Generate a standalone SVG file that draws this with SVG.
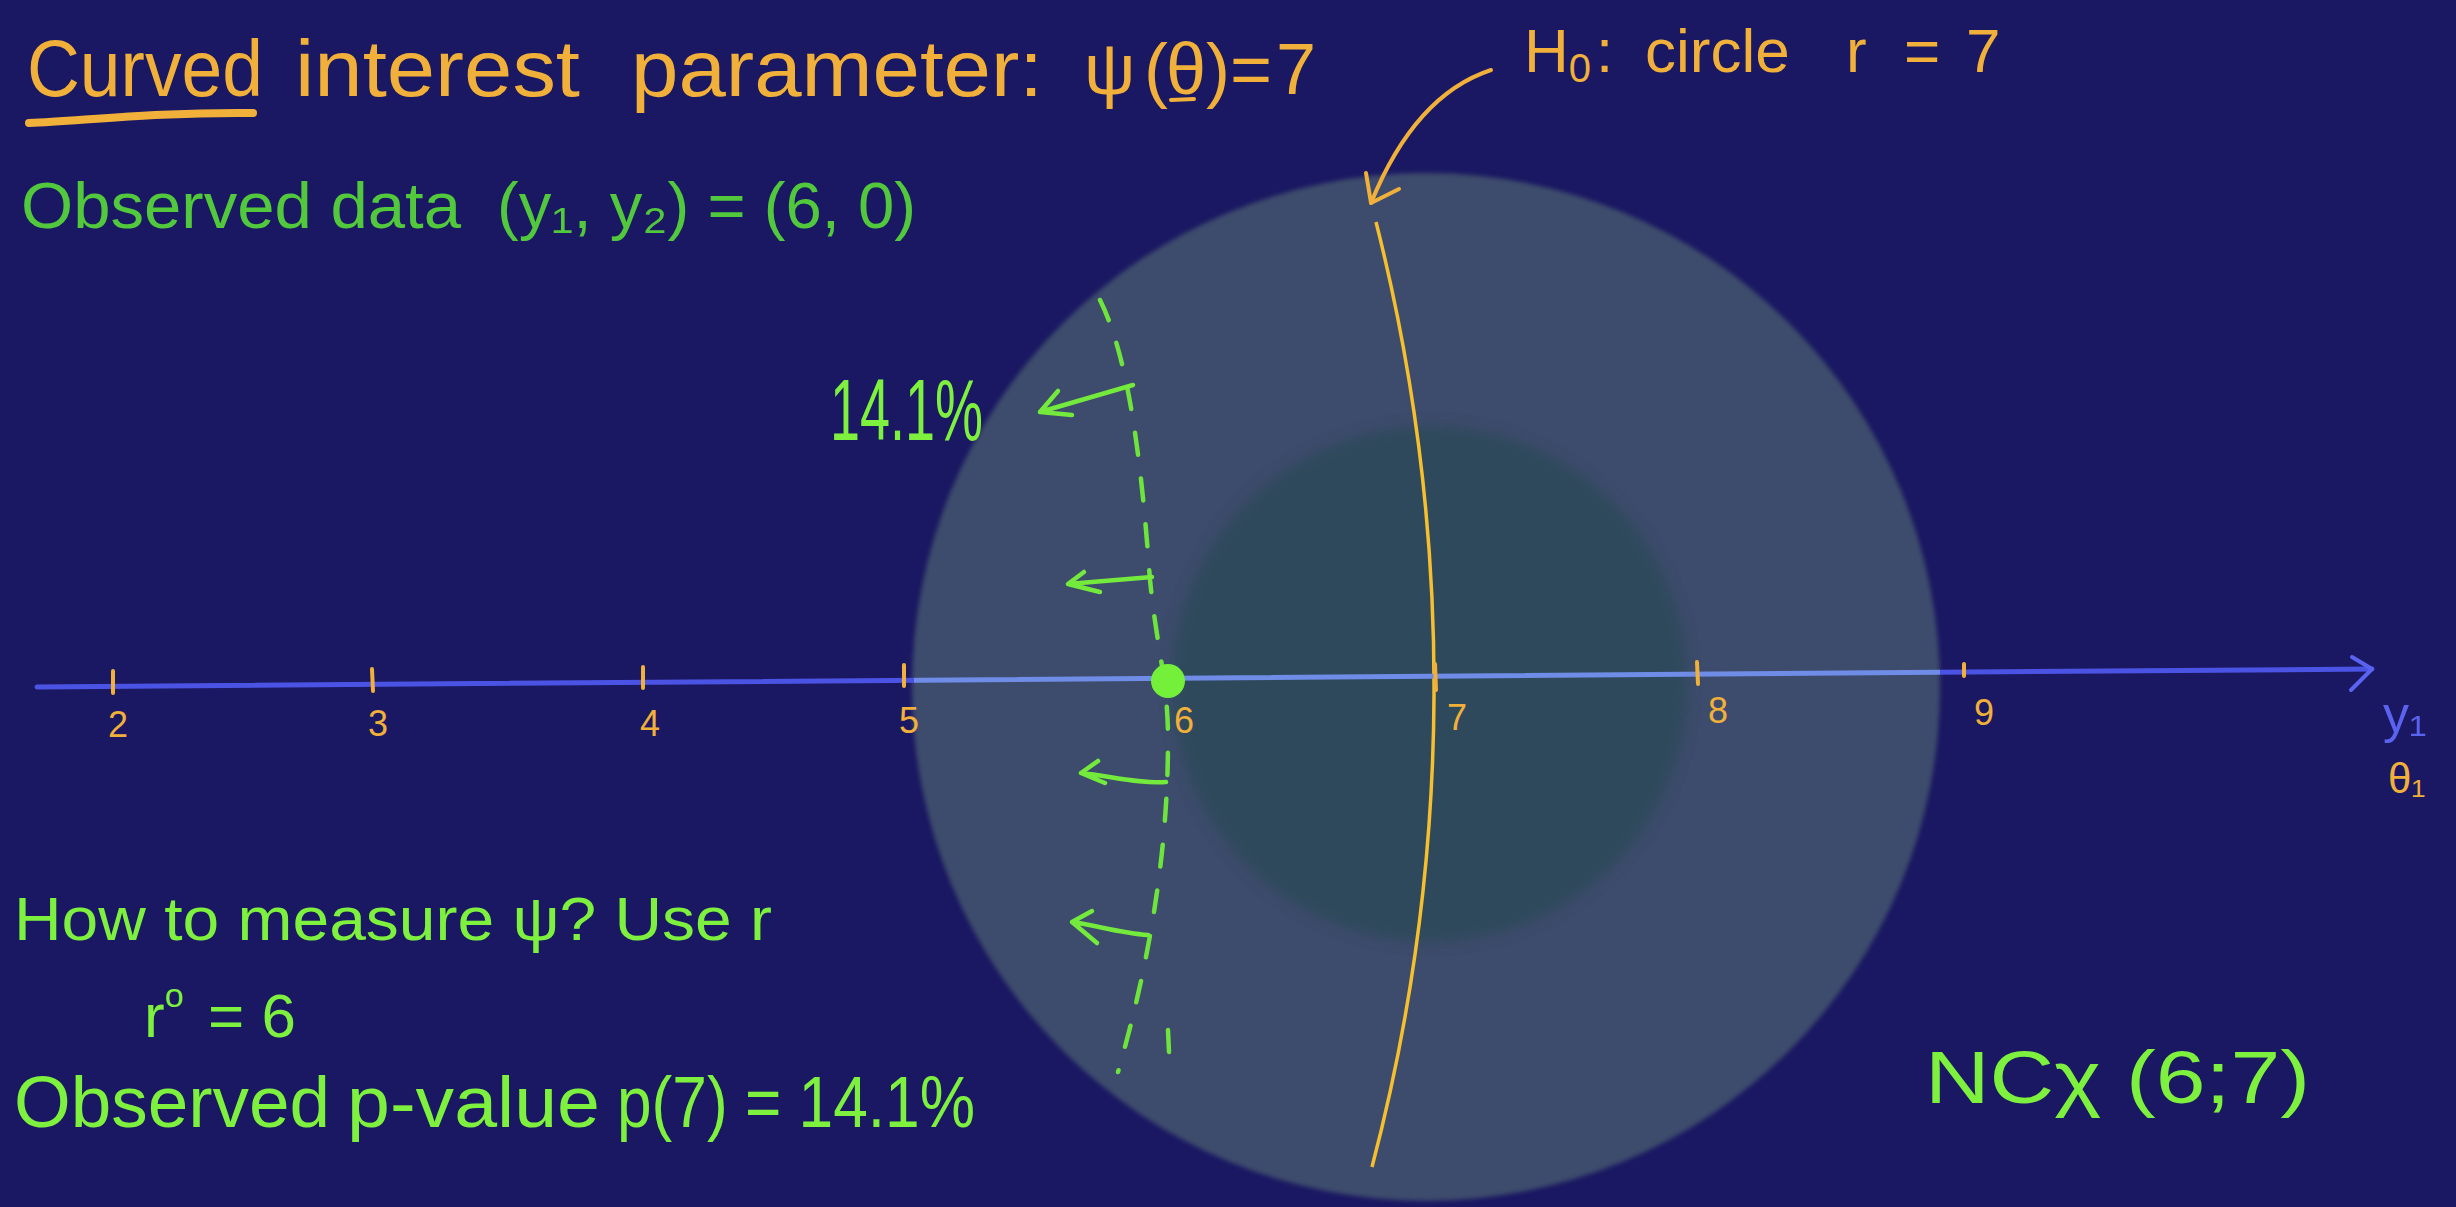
<svg xmlns="http://www.w3.org/2000/svg" width="2456" height="1207" viewBox="0 0 2456 1207">
<style>
text{font-family:"Liberation Sans","DejaVu Sans",sans-serif}
.or{fill:#f0b03a}
.g1{fill:#52c83c}
.g2{fill:#7ef03e}
.bl{fill:#5a63f0}
.tick{stroke:#f0b03a;stroke-width:4;stroke-linecap:round}
.garrow{fill:none;stroke:#74ea3c;stroke-width:4.5;stroke-linecap:round;stroke-linejoin:round}
.num{fill:#f0b03a;font-size:36px;text-anchor:middle}
</style>
<defs>
<linearGradient id="axisGrad" gradientUnits="userSpaceOnUse" x1="37" y1="0" x2="2372" y2="0">
<stop offset="0" stop-color="#4b53e4"/>
<stop offset="0.3756" stop-color="#4b53e4"/>
<stop offset="0.3756" stop-color="#6f8ce6"/>
<stop offset="0.8150" stop-color="#6f8ce6"/>
<stop offset="0.8150" stop-color="#4b53e4"/>
<stop offset="1" stop-color="#4b53e4"/>
</linearGradient>
<filter id="soft" x="-10%" y="-10%" width="120%" height="120%"><feGaussianBlur stdDeviation="2"/></filter>
<filter id="soft2" x="-10%" y="-10%" width="120%" height="120%"><feGaussianBlur stdDeviation="7"/></filter>
</defs>
<rect width="2456" height="1207" fill="#1a1862"/>

<g id="circles">
<circle cx="1426" cy="687" r="514" fill="#3c4b6c" filter="url(#soft)"/>
<circle cx="1430" cy="684" r="258" fill="#2f4a5c" filter="url(#soft2)"/>
</g>

<g id="title">
<text class="or" x="27" y="96" font-size="80" textLength="236" lengthAdjust="spacingAndGlyphs">Curved</text>
<text class="or" x="295" y="96" font-size="80" textLength="285" lengthAdjust="spacingAndGlyphs">interest</text>
<text class="or" x="631" y="96" font-size="80" textLength="412" lengthAdjust="spacingAndGlyphs">parameter:</text>
<text class="or" y="94" font-size="72"><tspan x="1084">ψ</tspan><tspan x="1144">(</tspan><tspan x="1166">θ</tspan><tspan x="1206">)</tspan><tspan x="1230">=</tspan><tspan x="1276">7</tspan></text>
<path d="M29,123 C90,120 160,112 253,113" fill="none" stroke="#f0b03a" stroke-width="8" stroke-linecap="round"/>
<path d="M1171,100 L1194,99" fill="none" stroke="#f0b03a" stroke-width="4" stroke-linecap="round"/>
</g>

<g id="observed-data">
<text class="g1" x="21" y="228" font-size="64" textLength="440" lengthAdjust="spacingAndGlyphs">Observed data</text>
<text class="g1" x="497" y="228" font-size="64" textLength="419" lengthAdjust="spacingAndGlyphs">(y₁, y₂) = (6, 0)</text>
</g>

<g id="h0-label">
<text class="or" y="72" font-size="62"><tspan x="1524">H</tspan><tspan font-size="40" dy="10">0</tspan><tspan dy="-10" x="1596">:</tspan><tspan x="1645">circle</tspan><tspan x="1846">r</tspan><tspan x="1904">=</tspan><tspan x="1966">7</tspan></text>
</g>

<g id="h0-curve">
<path d="M1376,222 A1890,1890 0 0 1 1372,1167" fill="none" stroke="#f5bf2e" stroke-width="3.5"/>
</g>

<g id="axis">
<line x1="37" y1="687" x2="2372" y2="669" stroke="url(#axisGrad)" stroke-width="5" stroke-linecap="round"/>
<polyline points="2352,657 2372,669 2351,690" fill="none" stroke="#5a63f0" stroke-width="4" stroke-linecap="round" stroke-linejoin="round"/>
<line class="tick" x1="113" y1="671" x2="113" y2="693"/>
<line class="tick" x1="372" y1="669" x2="373" y2="691"/>
<line class="tick" x1="643" y1="667" x2="643" y2="688"/>
<line class="tick" x1="904" y1="665" x2="904" y2="686"/>
<line class="tick" x1="1435" y1="664" x2="1436" y2="690"/>
<line class="tick" x1="1697" y1="662" x2="1698" y2="684"/>
<line class="tick" x1="1964" y1="664" x2="1964" y2="676"/>
<text class="num" x="118" y="737">2</text>
<text class="num" x="378" y="736">3</text>
<text class="num" x="650" y="736">4</text>
<text class="num" x="909" y="733">5</text>
<text class="num" x="1184" y="733">6</text>
<text class="num" x="1457" y="730">7</text>
<text class="num" x="1718" y="723">8</text>
<text class="num" x="1984" y="725">9</text>
<text class="bl" x="2383" y="732" font-size="52">y₁</text>
<text class="or" x="2388" y="793" font-size="42">θ₁</text>
</g>

<g id="dashed-r6">
<path d="M1100,300 C1130,360 1142,470 1150,580 C1157,650 1168,680 1168,740 C1168,830 1156,940 1118,1072" fill="none" stroke="#6ee43c" stroke-width="4.5" stroke-linecap="round" stroke-dasharray="22 24"/>
<line x1="1168" y1="1030" x2="1169" y2="1052" stroke="#6ee43c" stroke-width="4.5" stroke-linecap="round"/>
</g>

<g id="connectors">
<path d="M1491,70 Q1415,95 1371,203" fill="none" stroke="#f0b03a" stroke-width="4" stroke-linecap="round"/>
<polyline points="1366,173 1371,203 1399,189" fill="none" stroke="#f0b03a" stroke-width="4" stroke-linecap="round" stroke-linejoin="round"/>
<path class="garrow" d="M1133,385 L1040,412 M1058,391 L1040,412 L1072,415"/>
<path class="garrow" d="M1152,577 L1068,584 M1084,572 L1068,584 L1100,592"/>
<path class="garrow" d="M1166,782 C1140,784 1110,776 1081,773 M1098,761 L1081,773 L1105,783"/>
<path class="garrow" d="M1148,935 C1120,933 1095,925 1072,922 M1092,911 L1072,922 L1097,943"/>
</g>

<g id="observed-point">
<circle cx="1168" cy="681" r="17" fill="#74f03a"/>
</g>

<g id="label-14">
<text class="g2" x="830" y="440" font-size="88" textLength="153" lengthAdjust="spacingAndGlyphs">14.1%</text>
</g>

<g id="bottom-notes">
<text class="g2" x="14" y="940" font-size="62" textLength="758" lengthAdjust="spacingAndGlyphs">How to measure ψ? Use r</text>
<text class="g2" y="1037" font-size="62"><tspan x="144">r</tspan><tspan font-size="34" dy="-30">o</tspan><tspan dy="30" x="208">= 6</tspan></text>
<text class="g2" x="14" y="1127" font-size="72" textLength="316" lengthAdjust="spacingAndGlyphs">Observed</text>
<text class="g2" x="347" y="1127" font-size="72" textLength="253" lengthAdjust="spacingAndGlyphs">p-value</text>
<text class="g2" x="617" y="1127" font-size="72" textLength="358" lengthAdjust="spacingAndGlyphs">p(7) = 14.1%</text>
</g>

<g id="ncx">
<text class="g2" x="1925" y="1103" font-size="74" textLength="385" lengthAdjust="spacingAndGlyphs">NCχ (6;7)</text>
</g>
</svg>
